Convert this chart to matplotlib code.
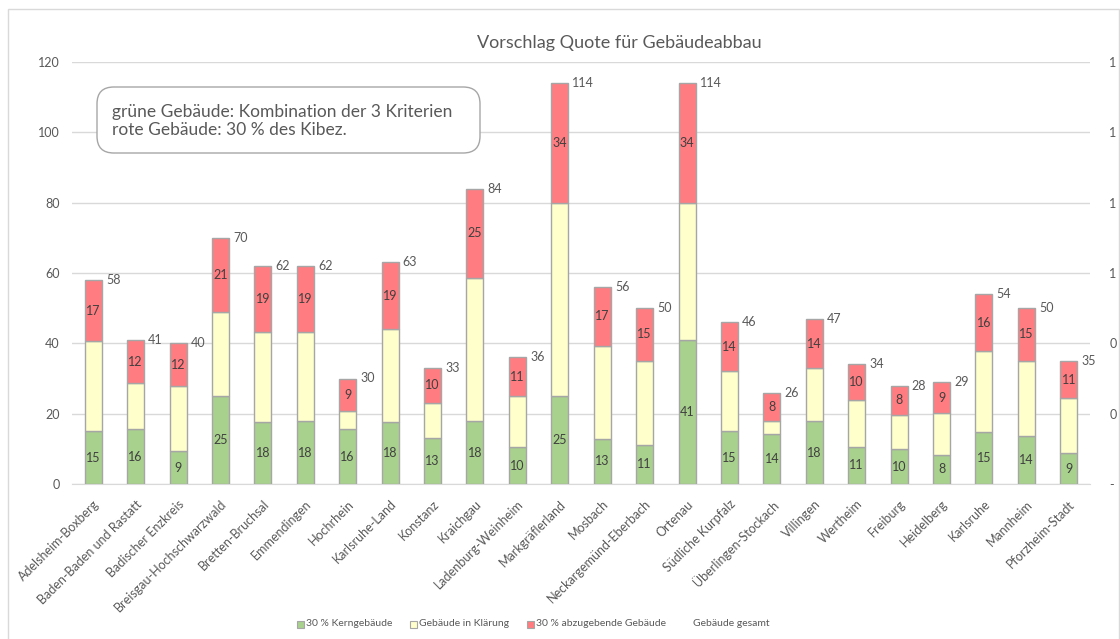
import matplotlib
matplotlib.use("Agg")
import matplotlib.pyplot as plt
from matplotlib.patches import FancyBboxPatch, Rectangle
import numpy as np

categories = ["Adelsheim-Boxberg", "Baden-Baden und Rastatt", "Badischer Enzkreis",
              "Breisgau-Hochschwarzwald", "Bretten-Bruchsal", "Emmendingen", "Hochrhein",
              "Karlsruhe-Land", "Konstanz", "Kraichgau", "Ladenburg-Weinheim",
              "Markgräflerland", "Mosbach", "Neckargemünd-Eberbach", "Ortenau",
              "Südliche Kurpfalz", "Überlingen-Stockach", "Villingen", "Wertheim",
              "Freiburg", "Heidelberg", "Karlsruhe", "Mannheim", "Pforzheim-Stadt"]
kern = [15.0, 15.6, 9.3, 25.0, 17.6, 17.8, 15.6, 17.6, 13.1, 17.9, 10.4, 25.0,
        12.8, 11.1, 40.9, 15.0, 14.2, 17.8, 10.6, 9.9, 8.3, 14.8, 13.7, 8.8]
klaerung = [25.6, 13.0, 18.6, 23.9, 25.7, 25.5, 5.3, 26.4, 10.0, 40.8, 14.7, 54.8,
            26.5, 24.0, 38.9, 17.1, 3.8, 15.1, 13.3, 9.7, 11.8, 22.9, 21.4, 15.6]
abzugeben = [17.4, 12.4, 12.1, 21.1, 18.7, 18.7, 9.1, 19.0, 9.9, 25.3, 10.9, 34.2,
             16.7, 14.9, 34.2, 13.9, 8.0, 14.1, 10.1, 8.4, 8.9, 16.3, 14.9, 10.6]
gesamt = [58, 41, 40, 70, 62, 62, 30, 63, 33, 84, 36, 114, 56, 50, 114, 46, 26, 47,
          34, 28, 29, 54, 50, 35]
left_ticks = [0, 20, 40, 60, 80, 100, 120]
right_tick_labels = ["-", "0", "0", "1", "1", "1", "1"]
series_names = ["30 % Kerngebäude", "Gebäude in Klärung", "30 % abzugebende Gebäude",
                "Gebäude gesamt"]
title = "Vorschlag Quote für Gebäudeabbau"
note = "grüne Gebäude: Kombination der 3 Kriterien\nrote Gebäude: 30 % des Kibez."

plt.rcParams['font.family'] = ['Lato', 'DejaVu Sans']

C_GREEN = "#A9D18E"
C_YELLOW = "#FFFFCC"
C_RED = "#FF7C80"
EDGE = "#A6A6A6"
TXT = "#595959"
LBL = "#404040"

fig = plt.figure(figsize=(11.2, 6.39), dpi=100)
W, H = 1120, 639
ax = fig.add_axes([72 / W, 1 - 484 / H, (1090 - 72) / W, (484 - 62) / H])

# chart frame
fig.patches.append(Rectangle((8 / W, -0.01), (1119 - 8) / W, 1 - 9 / H + 0.01,
                             transform=fig.transFigure, fill=False,
                             edgecolor="#D9D9D9", linewidth=1))

x = np.arange(len(categories))
bw = 0.4
kern_a = np.array(kern)
kl_a = np.array(klaerung)
rd_a = np.array(abzugeben)
ax.bar(x, kern_a, bw, color=C_GREEN, edgecolor=EDGE, linewidth=1, zorder=3)
ax.bar(x, kl_a, bw, bottom=kern_a, color=C_YELLOW, edgecolor=EDGE, linewidth=1, zorder=3)
ax.bar(x, rd_a, bw, bottom=kern_a + kl_a, color=C_RED, edgecolor=EDGE, linewidth=1, zorder=3)

for i in range(len(categories)):
    ax.text(x[i], kern_a[i] / 2, f"{kern_a[i]:.0f}", ha="center", va="center",
            fontsize=9, color=LBL, zorder=4)
    ax.text(x[i], kern_a[i] + kl_a[i] + rd_a[i] / 2, f"{rd_a[i]:.0f}", ha="center",
            va="center", fontsize=9, color=LBL, zorder=4)
    ax.annotate(f"{gesamt[i]}", xy=(x[i] + bw / 2, gesamt[i]), xytext=(3, 0),
                textcoords="offset points", ha="left", va="center",
                fontsize=9, color=TXT, zorder=4)

ax.set_xlim(-0.5, len(categories) - 0.5)
ax.set_ylim(0, 120)
ax.set_yticks(left_ticks)
ax.tick_params(axis="y", length=0, pad=9, labelsize=9, labelcolor=TXT)
ax.grid(axis="y", color="#D9D9D9", linewidth=1, zorder=0)
ax.set_axisbelow(True)
for s in ["top", "right", "left"]:
    ax.spines[s].set_visible(False)
ax.spines["bottom"].set_color("#D9D9D9")
ax.set_xticks(x)
ax.set_xticklabels(categories, rotation=45, ha="right", va="top",
                   rotation_mode="anchor", fontsize=9, color=TXT)
ax.tick_params(axis="x", length=0, pad=10)

ax2 = ax.twinx()
ax2.set_ylim(0, 1.2)
ax2.set_yticks(np.array(left_ticks) / 100)
ax2.set_yticklabels(right_tick_labels)
ax2.tick_params(axis="y", length=0, pad=14, labelsize=9, labelcolor=TXT)
for s in ax2.spines.values():
    s.set_visible(False)

fig.text(619 / W, 1 - 43 / H, title, ha="center", va="center", fontsize=13, color=TXT)

box = FancyBboxPatch((97 / W, 1 - 153 / H), (480 - 97) / W, (153 - 87) / H,
                     boxstyle="round,pad=0,rounding_size=0.015",
                     transform=fig.transFigure, facecolor="white",
                     edgecolor="#A6A6A6", linewidth=1, zorder=5,
                     mutation_aspect=W / H)
fig.patches.append(box)
fig.text(112 / W, 1 - 121 / H, note, ha="left", va="center", fontsize=12.5,
         color=TXT, linespacing=1.15, zorder=6)

# legend, placed like the reference
leg_colors = [C_GREEN, C_YELLOW, C_RED, None]
leg_marker_x = [297, 410, 527, 684]
leg_text_x = [306, 419, 536, 693]
ly = 624
for c, mx, tx, name in zip(leg_colors, leg_marker_x, leg_text_x, series_names):
    if c is not None:
        fig.patches.append(Rectangle((mx / W, 1 - (ly + 3.5) / H), 7 / W, 7 / H,
                                     transform=fig.transFigure, facecolor=c,
                                     edgecolor=EDGE, linewidth=0.8))
    fig.text(tx / W, 1 - ly / H, name, ha="left", va="center", fontsize=7.5, color=TXT)

fig.savefig("out.png", dpi=100)
